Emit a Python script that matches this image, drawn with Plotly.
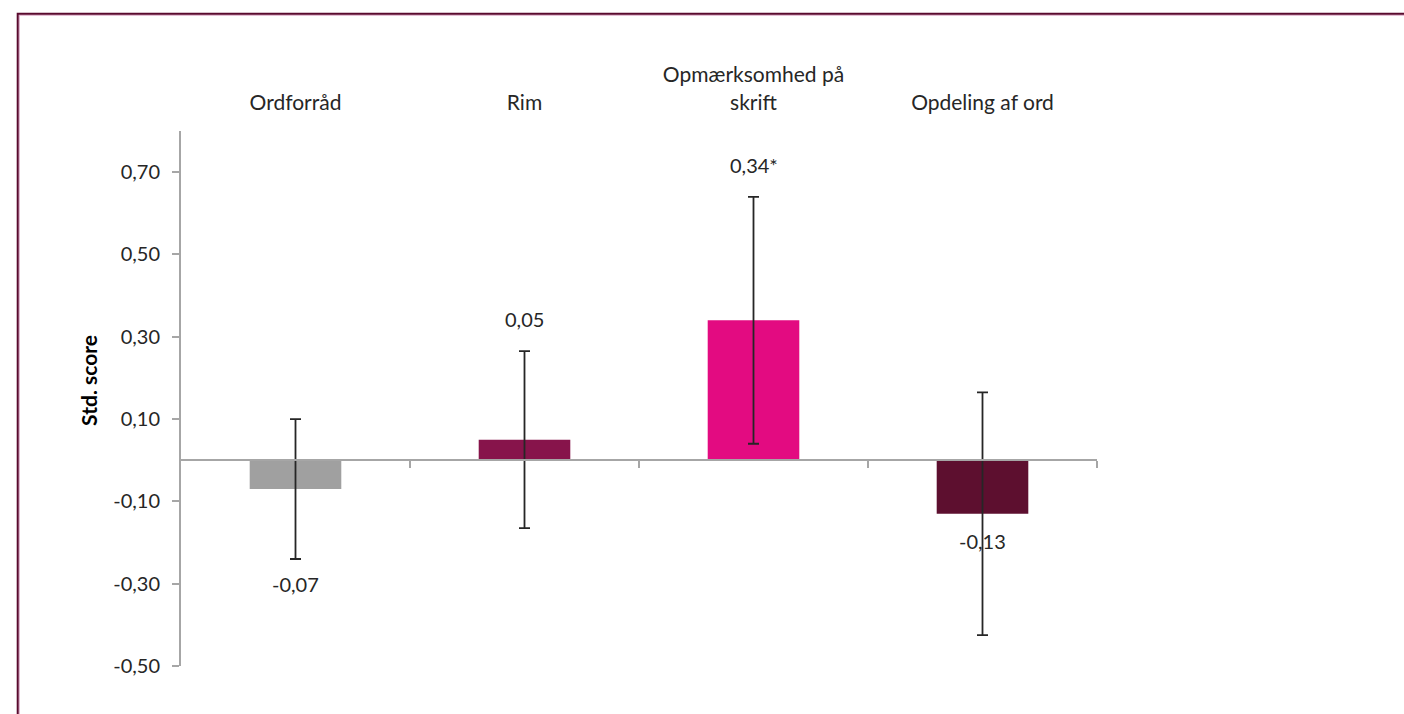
import plotly.graph_objects as go

# Effect sizes (standardised scores) per outcome
categories = ["Ordforråd", "Rim", "Opmærksomhed på<br>skrift", "Opdeling af ord"]
values = [-0.07, 0.05, 0.34, -0.13]
errors = [0.17, 0.215, 0.30, 0.295]
significant = [False, False, True, False]
bar_colors = ["#A0A0A0", "#87144B", "#E30B81", "#5D0F2F"]

# where each value label sits: beyond the error bar or just past the bar end
label_place = ["below_err", "above_err", "above_err", "below_bar"]

y_ticks = [-0.50, -0.30, -0.10, 0.10, 0.30, 0.50, 0.70]
y_range = [-0.5, 0.8]

FONT = "Lato"
TEXT = "#262626"
AXIS = "#A6A6A6"


def fmt(v):
    return f"{v:.2f}".replace(".", ",")


x_idx = list(range(len(categories)))

fig = go.Figure()
fig.add_trace(go.Bar(
    x=x_idx,
    y=values,
    marker=dict(color=bar_colors, line=dict(width=0)),
    width=0.4,
    error_y=dict(type="data", array=errors, symmetric=True,
                 color=TEXT, thickness=1.8, width=5.5),
    hoverinfo="skip",
    showlegend=False,
))
# carrier for the zero-line axis with category boundary ticks
fig.add_trace(go.Scatter(x=[], y=[], xaxis="x2", showlegend=False))

annotations = []
for i, (v, e, sig, place) in enumerate(zip(values, errors, significant, label_place)):
    txt = fmt(v) + ("*" if sig else "")
    if place == "above_err":
        y, shift = v + e, 32
    elif place == "below_err":
        y, shift = v - e, -25
    else:
        y, shift = v, -27
    annotations.append(dict(
        x=i, y=y, xref="x", yref="y", text=txt, showarrow=False,
        yshift=shift, xanchor="center", yanchor="middle",
        font=dict(family=FONT, size=20, color=TEXT),
    ))

annotations.append(dict(
    x=-0.1004, y=0.533, xref="paper", yref="paper", text="<b>Std. score</b>",
    textangle=-90, showarrow=False, xanchor="center", yanchor="middle",
    font=dict(family=FONT, size=21, color="#000000"),
))

zero_pos = (0 - y_range[0]) / (y_range[1] - y_range[0])

# frame around the figure
L, T = 181, 131
PW, PH = 916, 535
def px_x(p):
    return (p - L) / PW
def px_y(p):
    return 1 - (p - T) / PH

shapes = [
    dict(type="rect", xref="paper", yref="paper",
         x0=px_x(19.2), x1=px_x(1440), y0=px_y(760), y1=px_y(15.2),
         line=dict(color="#DDA9C8", width=1.2), fillcolor="rgba(0,0,0,0)", layer="below"),
    dict(type="rect", xref="paper", yref="paper",
         x0=px_x(17.7), x1=px_x(1440), y0=px_y(760), y1=px_y(13.7),
         line=dict(color="#5A0A2E", width=2), fillcolor="rgba(0,0,0,0)", layer="below"),
]

fig.update_layout(
    width=1404, height=714,
    margin=dict(l=L, r=1404 - L - PW, t=T, b=714 - T - PH),
    paper_bgcolor="white", plot_bgcolor="white",
    font=dict(family=FONT, size=20, color=TEXT),
    xaxis=dict(
        type="linear", range=[-0.5, 3.5], side="top",
        tickmode="array", tickvals=x_idx, ticktext=categories,
        ticks="", showline=False, showgrid=False, zeroline=False,
        tickfont=dict(family=FONT, size=21, color=TEXT),
        ticklabelstandoff=16,
    ),
    xaxis2=dict(
        type="linear", range=[-0.5, 3.5], overlaying="x", anchor="free",
        position=zero_pos, side="bottom",
        tickmode="array", tickvals=[i + 0.5 for i in x_idx],
        showticklabels=False, ticks="outside", ticklen=7, tickwidth=1.5,
        tickcolor=AXIS, showline=True, linecolor=AXIS, linewidth=2,
        showgrid=False, zeroline=False,
    ),
    yaxis=dict(
        range=y_range, tickmode="array", tickvals=y_ticks,
        ticktext=[fmt(t) for t in y_ticks],
        ticks="outside", ticklen=7, tickwidth=1.5, tickcolor=AXIS,
        showline=True, linecolor=AXIS, linewidth=2,
        showgrid=False, zeroline=False,
        tickfont=dict(family=FONT, size=20, color=TEXT),
        ticklabelstandoff=8,
    ),
    annotations=annotations,
    shapes=shapes,
)

fig.write_html("out.html")
